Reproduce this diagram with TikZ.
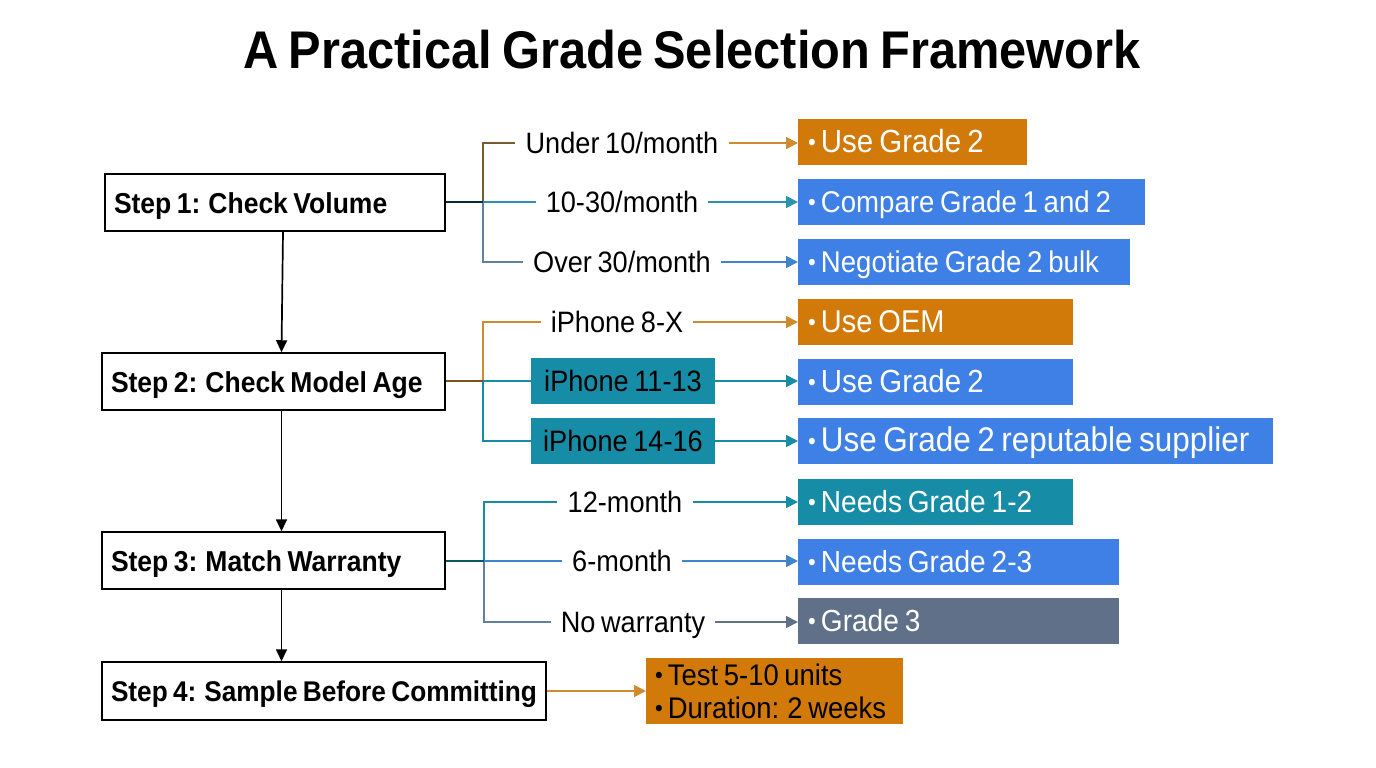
\documentclass[tikz,border=0pt]{standalone}
\usepackage{fontspec}
\setmainfont[FakeStretch=0.92,WordSpace=0.75]{Liberation Sans}
\usetikzlibrary{arrows.meta}
\definecolor{ordercol}{HTML}{D17A0A}
\definecolor{bluecol}{HTML}{3F80E6}
\definecolor{tealcol}{HTML}{168CA6}
\definecolor{slatecol}{HTML}{5F7088}
\definecolor{brownline}{HTML}{7A5A30}
\definecolor{tealline}{HTML}{2A94B0}
\definecolor{slateline}{HTML}{64809F}
\definecolor{orangeline}{HTML}{CF8B2E}
\definecolor{blueline}{HTML}{3F84C8}
\newcommand\bul{\raisebox{2pt}{\fontsize{24}{24}\selectfont•}\hspace{5pt}}
\tikzset{
  stepbox/.style={draw=black,line width=1.5pt,fill=white,inner xsep=9pt,inner ysep=0pt,align=flush left,
    minimum height=#1,font=\fontsize{28.8}{32}\selectfont\bfseries,text height=21pt,text depth=0pt},
  stepbox/.default=57pt,
  opt/.style={inner xsep=10pt,inner ysep=0pt,minimum height=46pt,font=\fontsize{29.5}{32}\selectfont,text height=21pt,text depth=0pt},
  res/.style={fill=#1,text=white,inner xsep=10pt,inner ysep=0pt,minimum height=46pt,align=flush left,
    font=\fontsize{30.5}{32}\selectfont,text height=21pt,text depth=0pt},
  link/.style={line width=1.7pt},
  flow/.style={line width=1.7pt,-{Triangle[length=12pt,width=12pt]}},
  next/.style={line width=1.7pt,black,-{Triangle[length=12pt,width=11pt]}}
}
\begin{document}
\begin{tikzpicture}[x=1pt,y=-1pt]
\useasboundingbox (0,0) rectangle (1376,768);
\node (title) at (692,50) {\fontsize{53}{56}\selectfont\bfseries A Practical Grade Selection Framework};

\node[stepbox,text width=322pt] (s1) at (275,202.5) {Step 1: Check Volume};
\node[stepbox,text width=325pt] (s2) at (273.5,381.5) {Step 2: Check Model Age};
\node[stepbox,text width=325pt] (s3) at (273.5,560.5) {Step 3: Match Warranty};
\node[stepbox=58pt,text width=426pt,font=\fontsize{28.5}{32}\selectfont\bfseries] (s4) at (324,691) {Step 4: Sample Before Committing};

\coordinate (j1) at (483,202);
\coordinate (j2) at (483,381);
\coordinate (j3) at (484,561);

\node[opt] (o1) at (622,143) {Under 10/month};
\node[opt] (o2) at (622,202) {10-30/month};
\node[opt] (o3) at (622,262) {Over 30/month};
\node[opt] (o4) at (617,322) {iPhone 8-X};
\node[opt,fill=tealcol,minimum width=184pt] (o5) at (623,381) {iPhone 11-13};
\node[opt,fill=tealcol,minimum width=184pt] (o6) at (623,441) {iPhone 14-16};
\node[opt] (o7) at (625,502) {12-month};
\node[opt] (o8) at (622,561) {6-month};
\node[opt] (o9) at (633,622) {No warranty};

\node[res=ordercol,text width=209pt,anchor=west,font=\fontsize{32}{36}\selectfont] (r1) at (798,142) {\bul Use Grade 2};
\node[res=bluecol,text width=327pt,anchor=west,font=\fontsize{30}{36}\selectfont] (r2) at (798,202) {\bul Compare Grade 1 and 2};
\node[res=bluecol,text width=312pt,anchor=west,font=\fontsize{30}{36}\selectfont] (r3) at (798,261.5) {\bul Negotiate Grade 2 bulk};
\node[res=ordercol,text width=255pt,anchor=west,font=\fontsize{31.5}{36}\selectfont] (r4) at (798,322) {\bul Use OEM};
\node[res=bluecol,text width=255pt,anchor=west,font=\fontsize{32}{36}\selectfont] (r5) at (798,381.5) {\bul Use Grade 2};
\node[res=bluecol,text width=455pt,anchor=west,font=\fontsize{34.2}{36}\selectfont] (r6) at (798,441) {\bul Use Grade 2 reputable supplier};
\node[res=tealcol,text width=255pt,anchor=west] (r7) at (798,502) {\bul Needs Grade 1-2};
\node[res=bluecol,text width=301pt,anchor=west] (r8) at (798,562) {\bul Needs Grade 2-3};
\node[res=slatecol,text width=301pt,anchor=west] (r9) at (798,621) {\bul Grade 3};
\node[fill=ordercol,inner xsep=9pt,inner ysep=0pt,minimum height=66pt,text width=239pt,align=flush left,
  font=\fontsize{29.8}{33}\selectfont,anchor=west] (r10) at (646,691) {\bul Test 5-10 units\\\bul Duration: 2 weeks};

\draw[next] ([xshift=8pt]s1.south) -- ([xshift=8pt]s2.north);
\draw[next] ([xshift=8pt]s2.south) -- ([xshift=8pt]s3.north);
\draw[next] ([xshift=8pt]s3.south) -- ([xshift=-42.5pt]s4.north);

% branches
\draw[link,brownline] (j1) |- (o1.west);
\draw[link,slateline] (j1) |- (o3.west);
\draw[link,tealline] (j1) -- (o2.west);
\draw[link,black!70!tealline] (s1.east |- j1) -- (j1);
\draw[link,orangeline] (j2) |- (o4.west);
\draw[link,tealcol] (j2) |- (o6.west);
\draw[link,tealcol] (j2) -- (o5.west);
\draw[link,black!40!orangeline] (s2.east |- j2) -- (j2);
\draw[link,tealcol] (j3) |- (o7.west);
\draw[link,slateline] (j3) |- (o9.west);
\draw[link,blueline] (j3) -- (o8.west);
\draw[link,black!40!tealcol] (s3.east |- j3) -- (j3);

\draw[flow,orangeline] (o1) -- (o1 -| r1.west);
\draw[flow,tealline] (o2) -- (o2 -| r2.west);
\draw[flow,blueline] (o3) -- (o3 -| r3.west);
\draw[flow,orangeline] (o4) -- (o4 -| r4.west);
\draw[flow,tealcol] (o5) -- (o5 -| r5.west);
\draw[flow,tealcol] (o6) -- (o6 -| r6.west);
\draw[flow,tealcol] (o7) -- (o7 -| r7.west);
\draw[flow,blueline] (o8) -- (o8 -| r8.west);
\draw[flow,slatecol] (o9) -- (o9 -| r9.west);
\draw[flow,orangeline] (s4) -- (r10);
\end{tikzpicture}
\end{document}
